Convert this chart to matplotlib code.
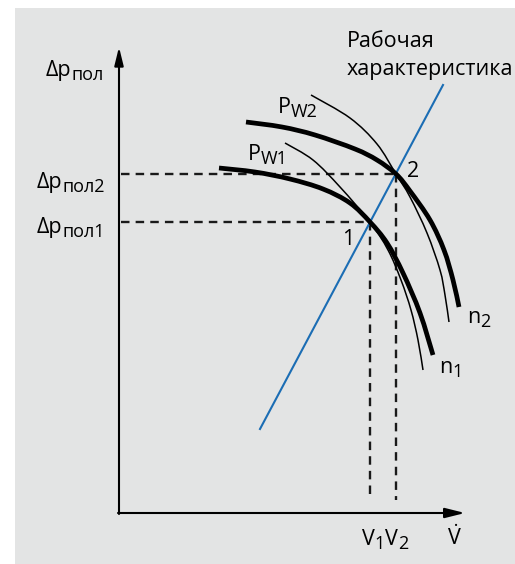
import matplotlib
matplotlib.use("Agg")
import matplotlib.pyplot as plt
from matplotlib.patches import Rectangle, PathPatch
from matplotlib.path import Path

plt.rcParams['font.family'] = ['Open Sans', 'DejaVu Sans']
plt.rcParams['mathtext.fontset'] = 'custom'
plt.rcParams['mathtext.rm'] = 'Open Sans'
plt.rcParams['mathtext.it'] = 'Open Sans'

# schematic coordinates, origin at the axes corner
# fan curves (thick) for two speeds
pw1_x = [100, 136, 171, 204, 231, 251, 268, 284, 301, 314]
pw1_y = [345, 341, 334, 324, 310, 291, 270, 240, 200, 158]
pw2_x = [127, 163, 196, 236, 258, 277, 291, 311, 325, 334, 340]
pw2_y = [391, 386, 378, 364, 353, 339, 322, 293, 263, 233, 206]

# thin curves n1, n2
n1_x = [166, 194, 221, 251, 269, 282, 292, 299, 304]
n1_y = [370, 353, 326, 291, 263, 233, 203, 173, 143]
n2_x = [192, 231, 258, 277, 291, 308, 321, 326, 330]
n2_y = [418, 395, 369, 339, 316, 280, 243, 218, 191]

# system (working) characteristic
sys_x = [141, 324]
sys_y = [84, 428]

# operating points
V_pts = [251, 277]
dp_pts = [291, 339]

FS = 15.5
SFS = 13
DESC = 0.24  # descent of "p" as part of font size


def smooth(xs, ys):
    # bezier path through the read points (catmull-rom handles)
    pts = list(zip(xs, ys))
    verts = [pts[0]]
    codes = [Path.MOVETO]
    for i in range(len(pts) - 1):
        p0 = pts[i - 1] if i > 0 else pts[i]
        p1 = pts[i]
        p2 = pts[i + 1]
        p3 = pts[i + 2] if i + 2 < len(pts) else pts[i + 1]
        c1 = (p1[0] + (p2[0] - p0[0]) / 6, p1[1] + (p2[1] - p0[1]) / 6)
        c2 = (p2[0] - (p3[0] - p1[0]) / 6, p2[1] - (p3[1] - p1[1]) / 6)
        verts += [c1, c2, p2]
        codes += [Path.CURVE4] * 3
    return Path(verts, codes)


def chain(x, y, parts):
    # parts: (text, is_sub); subscripts sit lower and smaller
    prev = None
    prev_base, prev_desc = 0, 0
    for txt, is_sub in parts:
        size = SFS if is_sub else FS
        base = -2.6 if is_sub else 0
        desc = DESC * size
        if prev is None:
            prev = ax.text(x, y, txt, ha='left', va='baseline', fontsize=size)
        else:
            dy = (base - desc) - (prev_base - prev_desc)
            prev = ax.annotate(txt, xy=(1, 0), xycoords=prev, xytext=(0, dy),
                               textcoords='offset points', ha='left', va='bottom',
                               fontsize=size)
        prev_base, prev_desc = base, desc


fig = plt.figure(figsize=(5.15, 5.64), dpi=100)
fig.patch.set_facecolor('white')
ax = fig.add_axes([0, 0, 1, 1])
ax.set_xlim(-119, 396)
ax.set_ylim(-51, 513)
ax.axis('off')

ax.add_patch(Rectangle((-104, -51), 500, 556, facecolor='#e3e4e4', edgecolor='none', zorder=0))

# axes arrows
ax.annotate('', xy=(0, 466), xytext=(0, -1),
            arrowprops=dict(arrowstyle='-|>,head_length=1.1,head_width=0.27',
                            lw=1.5, color='black', shrinkA=0, shrinkB=0, mutation_scale=10))
ax.annotate('', xy=(346, 0), xytext=(-1, 0),
            arrowprops=dict(arrowstyle='-|>,head_length=1.2,head_width=0.3',
                            lw=1.5, color='black', shrinkA=0, shrinkB=0, mutation_scale=10))

# dashed guides
for v, p in zip(V_pts, dp_pts):
    ax.plot([2, v], [p, p], color='#1a1a1a', lw=1.7, dashes=(3.6, 2.6), zorder=2)
    ax.plot([v, v], [p, 13], color='#1a1a1a', lw=1.7, dashes=(3.6, 2.6), zorder=2)

ax.plot(sys_x, sys_y, color='#1b6db4', lw=1.5, zorder=3)
for xs, ys, w in [(pw1_x, pw1_y, 3.4), (pw2_x, pw2_y, 3.4), (n1_x, n1_y, 1.1), (n2_x, n2_y, 1.1)]:
    ax.add_patch(PathPatch(smooth(xs, ys), fill=False, lw=w, edgecolor='black',
                           capstyle='butt', zorder=4))

chain(-73, 437, [('Δp', False), ('пол', True)])
chain(-82, 325, [('Δp', False), ('пол2', True)])
chain(-82, 280, [('Δp', False), ('пол1', True)])
chain(159, 400, [('P', False), ('W2', True)])
chain(129, 353, [('P', False), ('W1', True)])
chain(348, 190, [('n', False), ('2', True)])
chain(320, 140, [('n', False), ('1', True)])
chain(243, -32, [('V', False), ('1', True), ('V', False), ('2', True)])
ax.text(229, 268, '1', ha='center', va='baseline', fontsize=FS)
ax.text(288, 336, '2', ha='left', va='baseline', fontsize=FS)
ax.text(328, -32, r'$\dot{\mathrm{V}}$', ha='left', va='baseline', fontsize=FS)
ax.text(228, 466, 'Рабочая', ha='left', va='baseline', fontsize=FS)
ax.text(228, 438, 'характеристика', ha='left', va='baseline', fontsize=FS)

fig.savefig('out.png', dpi=100, facecolor='white')
